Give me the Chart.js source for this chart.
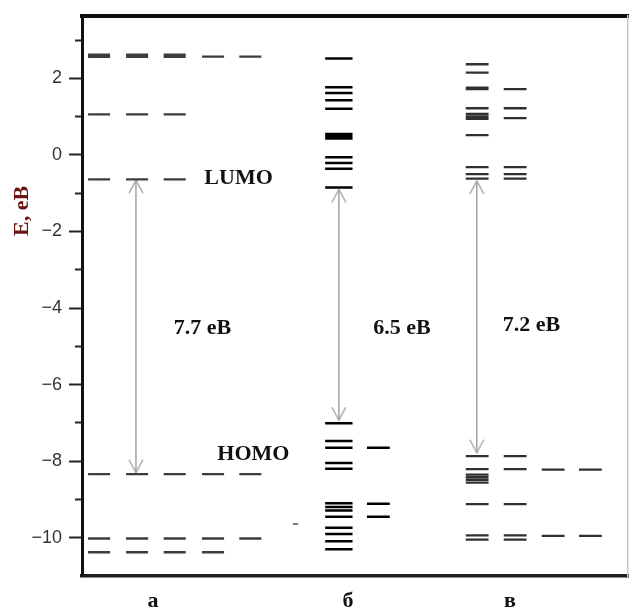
<!DOCTYPE html>
<html><head><meta charset="utf-8">
<script src="https://cdn.jsdelivr.net/npm/chart.js@4.4.0/dist/chart.umd.min.js"></script>
<style>html,body{margin:0;padding:0;background:#fff;} #wrap{width:630px;height:611px;}</style>
</head><body><div id="wrap"><canvas id="c" width="630" height="611"></canvas></div>
<script>
// ---- categories / labels ----
const columnLabels = ['а', 'б', 'в'];
const axisTitle = 'E, еВ';
const yMajorTicks = [-10, -8, -6, -4, -2, 0, 2];
const yMinorTicks = [-9, -7, -5, -3, -1, 1, 3];

// ---- energy levels (eV), column а, sub-columns 1..5 ----
const levelsA1 = [2.62, 2.56, 1.06, -0.64, -8.34, -10.02, -10.38];
const levelsA2 = [2.62, 2.56, 1.06, -0.64, -8.34, -10.02, -10.38];
const levelsA3 = [2.62, 2.56, 1.06, -0.64, -8.34, -10.02, -10.38];
const levelsA4 = [2.57, -8.34, -10.02, -10.38];
const levelsA5 = [2.57, -8.34, -10.02];
const levelsStray = [-9.64];

// ---- column б, sub-columns 1..2 ----
const levelsB1 = [2.52, 1.77, 1.62, 1.43, 1.21, 0.55, 0.49, 0.43, -0.06, -0.21, -0.36, -0.85,
                  -7.01, -7.47, -7.65, -8.05, -8.20, -9.10, -9.20, -9.29, -9.45, -9.74, -9.90, -10.09, -10.30];
const levelsB2 = [-7.65, -9.11, -9.45];

// ---- column в, sub-columns 1..4 ----
const levelsV1 = [2.37, 2.15, 1.76, 1.72, 1.22, 1.07, 1.00, 0.94, 0.52, -0.32, -0.50, -0.62,
                  -7.87, -8.21, -8.35, -8.42, -8.49, -8.56, -9.12, -9.94, -10.05];
const levelsV2 = [1.72, 1.22, 0.96, -0.32, -0.50, -0.62, -7.87, -8.21, -9.12, -9.94, -10.05];
const levelsV3 = [-8.22, -9.95];
const levelsV4 = [-8.22, -9.95];

// ---- HOMO-LUMO gaps ----
const gapValues = [7.7, 6.5, 7.2];
const arrowTop = [-0.66, -0.90, -0.68];
const arrowBottom = [-8.30, -6.93, -7.78];

// ---- layout (x in "slot" units) ----
const X_MAX = 14.37;
const Y_MIN = -11, Y_MAX = 3.63;
const colTickX = [1.87, 7.0, 11.26];
const arrowX = [1.42, 6.76, 10.39];

function segs(values, xc, hw) {
  const out = [];
  values.forEach(v => { out.push({x: xc - hw, y: v}, {x: xc + hw, y: v}, {x: xc, y: null}); });
  return out;
}
function levelSet(values, xc, hw, color, w) {
  return {data: segs(values, xc, hw), showLine: true, spanGaps: false, borderColor: color,
          borderWidth: w, pointRadius: 0, borderCapStyle: 'butt', xAxisID: 'x', yAxisID: 'y'};
}

// arrow head image (tip at the centre, arms pointing down)
const head = document.createElement('canvas');
head.width = 18; head.height = 30;
(() => { const g = head.getContext('2d'); g.strokeStyle = '#a3a3a3'; g.lineWidth = 1.4;
  g.beginPath(); g.moveTo(2, 28); g.lineTo(9, 15); g.lineTo(16, 28); g.stroke(); })();

const datasets = [];
const cA = '#3c3c3c', cB = '#000000', cV = '#303030';
[levelsA1, levelsA2, levelsA3, levelsA4, levelsA5].forEach((l, i) =>
  datasets.push(levelSet(l, [0.45, 1.45, 2.44, 3.45, 4.43][i], 0.29, cA, 2.3)));
datasets.push(levelSet(levelsStray, 5.62, 0.07, '#555', 1.5));
datasets.push(levelSet(levelsB1, 6.76, 0.36, cB, 2.5));
datasets.push(levelSet(levelsB2, 7.80, 0.30, cB, 2.5));
[levelsV1, levelsV2, levelsV3, levelsV4].forEach((l, i) =>
  datasets.push(levelSet(l, [10.40, 11.40, 12.40, 13.38][i], 0.30, cV, 2.3)));
gapValues.forEach((g, i) => datasets.push({
  data: [{x: arrowX[i], y: arrowTop[i]}, {x: arrowX[i], y: arrowBottom[i]}],
  showLine: true, borderColor: '#a3a3a3', borderWidth: 1.5,
  pointStyle: head, pointRadius: 5, pointRotation: [0, 180], xAxisID: 'x', yAxisID: 'y'
}));

const textPlugin = {
  id: 'texts',
  afterDatasetsDraw(chart) {
    const {ctx, scales: {x, y}} = chart;
    ctx.save();
    ctx.fillStyle = '#111';
    ctx.font = 'bold 22px "Liberation Serif"';
    ctx.textAlign = 'center'; ctx.textBaseline = 'middle';
    ctx.fillText('LUMO', x.getPixelForValue(4.12), y.getPixelForValue(-0.60));
    ctx.fillText('HOMO', x.getPixelForValue(4.51), y.getPixelForValue(-7.81));
    const gx = [3.17, 8.42, 11.83], gy = [-4.54, -4.53, -4.45];
    gapValues.forEach((g, i) => ctx.fillText(g.toFixed(1) + ' еВ', x.getPixelForValue(gx[i]), y.getPixelForValue(gy[i])));
    // column labels under the axis
    ctx.textBaseline = 'alphabetic';
    columnLabels.forEach((c, i) => ctx.fillText(c, x.getPixelForValue(colTickX[i]), chart.chartArea.bottom + 31));
    // axis title (baseline on the right side after rotation)
    ctx.translate(chart.chartArea.left - 54, y.getPixelForValue(-1.46));
    ctx.rotate(-Math.PI / 2);
    ctx.fillStyle = '#6a1414';
    ctx.fillText(axisTitle, 0, 0);
    ctx.restore();
  }
};

new Chart(document.getElementById('c'), {
  type: 'scatter',
  data: {datasets},
  options: {
    responsive: false, animation: false, devicePixelRatio: 1,
    layout: {autoPadding: false, padding: {left: 0, top: 16, right: 2, bottom: 35}},
    plugins: {legend: {display: false}, tooltip: {enabled: false}},
    events: [],
    scales: {
      x: {type: 'linear', position: 'bottom', min: 0, max: X_MAX,
          grid: {display: false, drawTicks: false, tickLength: 0},
          border: {display: true, color: '#1e1e1e', width: 3.5},
          ticks: {display: false},
          afterFit: s => { s.height = 0; }},
      x2: {type: 'linear', position: 'top', min: 0, max: X_MAX,
           grid: {display: false, drawTicks: false}, ticks: {display: false},
           border: {display: true, color: '#111', width: 4},
           afterFit: s => { s.height = 0; }},
      y: {type: 'linear', position: 'left', weight: 1, min: Y_MIN, max: Y_MAX,
          afterBuildTicks: s => { s.ticks = yMajorTicks.map(v => ({value: v})); },
          grid: {display: true, drawOnChartArea: false, drawTicks: true, tickLength: 13, tickWidth: 2, tickColor: '#222'},
          border: {display: true, color: '#111', width: 3},
          ticks: {autoSkip: false, padding: 7, color: '#333',
                  font: {family: 'Liberation Sans', size: 18},
                  callback: v => (v < 0 ? '\u2212' + Math.abs(v) : String(v))},
          afterFit: s => { s.width = 82; s.paddingTop = 0; s.paddingBottom = 0; }},
      yMinor: {type: 'linear', position: 'left', weight: 0, min: Y_MIN, max: Y_MAX,
          afterBuildTicks: s => { s.ticks = yMinorTicks.map(v => ({value: v})); },
          grid: {display: true, drawOnChartArea: false, drawTicks: true, tickLength: 7, tickWidth: 2, tickColor: '#222'},
          border: {display: false},
          ticks: {display: false},
          afterFit: s => { s.width = 0; s.paddingTop = 0; s.paddingBottom = 0; }},
      yR: {type: 'linear', position: 'right', min: Y_MIN, max: Y_MAX,
           grid: {display: false, drawTicks: false}, ticks: {display: false},
           border: {display: true, color: '#c8c8c8', width: 1.5},
           afterFit: s => { s.width = 0; s.paddingTop = 0; s.paddingBottom = 0; }}
    }
  },
  plugins: [textPlugin]
});
</script></body></html>
